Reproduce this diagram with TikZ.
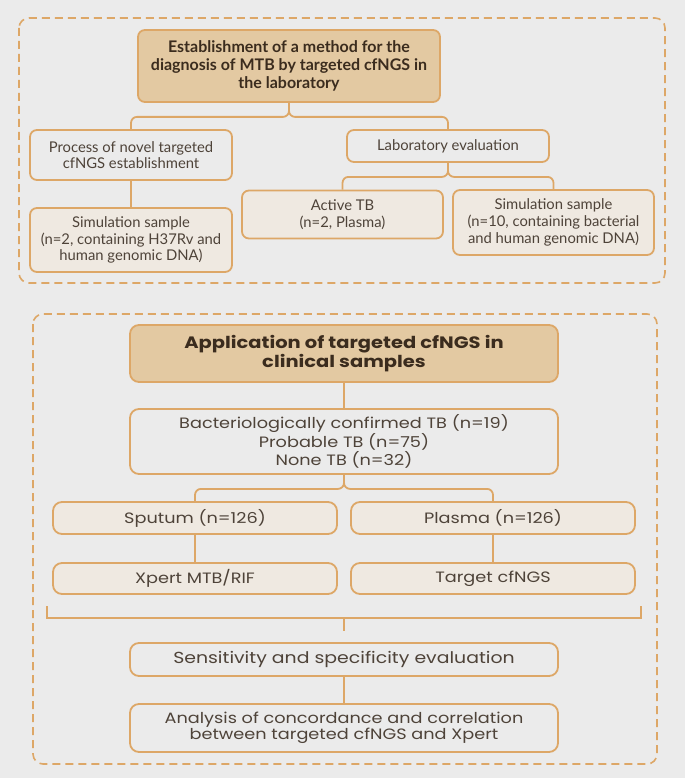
\documentclass[tikz,border=0pt]{standalone}
\usepackage{fontspec}
\usepackage{xcolor}
\setmainfont{Lato}
\newfontfamily\geofont[FakeStretch=1.18]{Poppins}

\definecolor{fondo}{HTML}{EBEBEB}
\definecolor{borde}{HTML}{DDA767}
\definecolor{titulo}{HTML}{E3C9A2}
\definecolor{claro}{HTML}{EFE9E1}
\definecolor{texto}{HTML}{4E4339}
\definecolor{oscuro}{HTML}{3B2C1E}

\begin{document}
\begin{tikzpicture}[x=1pt, y=-1pt,
	caja/.style={draw=borde, line width=1.8pt, rounded corners=7pt, align=center,
		text=texto, inner sep=0pt, font=\fontsize{14.8}{16.7}\selectfont},
	cajatit/.style={caja, fill=titulo, text=oscuro, font=\fontsize{16}{18.3}\selectfont\bfseries},
	cajaclara/.style={caja, fill=claro},
	geo/.style={caja, rounded corners=9pt, font=\geofont\fontsize{15}{16.5}\selectfont},
	geotit/.style={geo, fill=titulo, text=oscuro, font=\geofont\fontsize{16.5}{19}\selectfont\bfseries},
	geoclara/.style={geo, fill=claro},
	linea/.style={draw=borde, line width=1.8pt, rounded corners=6pt},
	marco/.style={draw=borde, line width=1.6pt, rounded corners=10pt, dash pattern=on 8pt off 5pt}
	]

	%Fondo y marcos
	\fill[fondo] (0,0) rectangle (685,778);
	\useasboundingbox (0,0) rectangle (685,778);
	\draw[marco] (19,18) rectangle (665,283);
	\draw[marco] (33,314) rectangle (657,764);

	%Parte de laboratorio
	\node[cajatit, minimum width=302, minimum height=72] (est) at (289,66)
		{Establishment of a method for the\\diagnosis of MTB by targeted cfNGS in\\the laboratory};
	\node[caja, minimum width=202, minimum height=50] (proc) at (131,155)
		{Process of novel targeted\\cfNGS establishment};
	\node[caja, minimum width=202, minimum height=32] (labev) at (448,146)
		{Laboratory evaluation};
	\node[cajaclara, minimum width=202, minimum height=64] (simL) at (131,240)
		{Simulation sample\\(n=2, containing H37Rv and\\human genomic DNA)};
	\node[cajaclara, minimum width=201, minimum height=48] (act) at (342.5,214.5)
		{Active TB\\(n=2, Plasma)};
	\node[cajaclara, minimum width=201, minimum height=65] (simR) at (553.5,222.5)
		{Simulation sample\\(n=10, containing bacterial\\and human genomic DNA)};

	%Conectores de laboratorio
	\draw[linea] (est.south) -- ++(0,14) -| (proc.north);
	\draw[linea] (est.south) -- ++(0,14) -| (labev.north);
	\draw[linea] (proc.south) -- (simL.north);
	\draw[linea] (labev.south) -- ++(0,14) -| (act.north);
	\draw[linea] (labev.south) -- ++(0,14) -| (simR.north);

	%Parte clinica
	\node[geotit, minimum width=428, minimum height=57] (apl) at (344,353.5)
		{Application of targeted cfNGS in\\clinical samples};
	\node[geo, minimum width=428, minimum height=65] (cat) at (344,441.5)
		{Bacteriologically confirmed TB (n=19)\\Probable TB (n=75)\\None TB (n=32)};
	\node[geoclara, minimum width=284, minimum height=32] (sput) at (195,518)
		{Sputum (n=126)};
	\node[geoclara, minimum width=284, minimum height=32] (plas) at (493,518)
		{Plasma (n=126)};
	\node[geoclara, minimum width=284, minimum height=31] (xpert) at (195,578.5)
		{Xpert MTB/RIF};
	\node[geoclara, minimum width=284, minimum height=31] (targ) at (493,578.5)
		{Target cfNGS};
	\node[geo, minimum width=428, minimum height=33, font=\geofont\fontsize{16}{18}\selectfont] (sens) at (344,659.5)
		{Sensitivity and specificity evaluation};
	\node[geo, minimum width=428, minimum height=48] (anal) at (344,728)
		{Analysis of concordance and correlation\\between targeted cfNGS and Xpert};

	%Conectores clinicos
	\draw[linea] (apl.south) -- (cat.north);
	\draw[linea] (cat.south) -- ++(0,14) -| (sput.north);
	\draw[linea] (cat.south) -- ++(0,14) -| (plas.north);
	\draw[linea] (sput.south) -- (xpert.north);
	\draw[linea] (plas.south) -- (targ.north);
	%Corchete
	\coordinate (corI) at (47,606);
	\coordinate (corD) at (641,606);
	\coordinate (corM) at (344,618);
	\draw[linea, rounded corners=0pt] (corI) -- ++(0,12) -| (corD);
	\draw[linea] (corM) -- ++(0,13);
	\draw[linea] (sens.south) -- (anal.north);
\end{tikzpicture}
\end{document}
